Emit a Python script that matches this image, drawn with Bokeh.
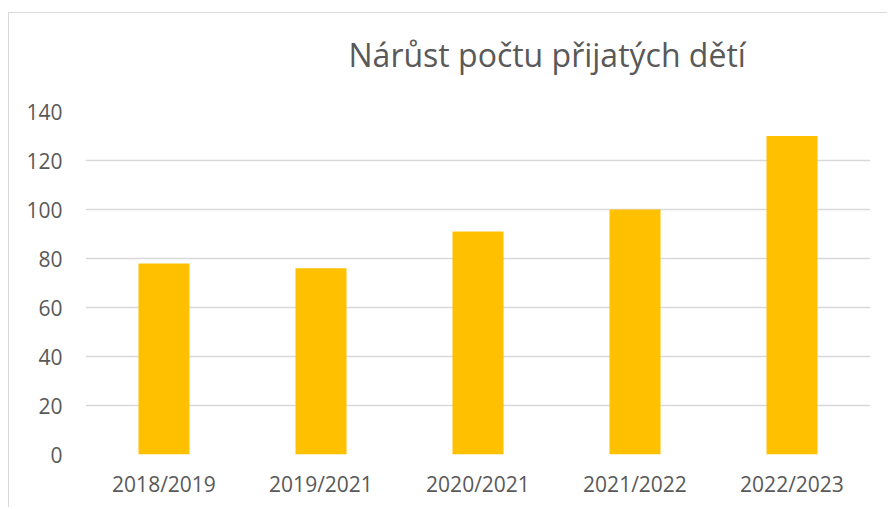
from bokeh.plotting import figure
from bokeh.models import Range1d, FixedTicker, Title, ColumnDataSource
from bokeh.embed import file_html
from bokeh.resources import INLINE

title_text = "Nárůst počtu přijatých dětí"
categories = ["2018/2019", "2019/2021", "2020/2021", "2021/2022", "2022/2023"]
values = [78, 76, 91, 100, 130]
y_ticks = [0, 20, 40, 60, 80, 100, 120, 140]

FONT = "Open Sans"
TXT = "#595959"
GRID = "#D9D9D9"

src = ColumnDataSource(dict(cat=categories, val=values))

p = figure(x_range=categories, y_range=Range1d(0, 140),
           width=879, height=495, output_backend="svg", toolbar_location=None,
           min_border_left=76, min_border_right=18, min_border_top=98, min_border_bottom=54)
p.styles = {"border-left": f"1px solid {GRID}", "border-top": f"1px solid {GRID}",
            "margin-top": "12px", "margin-left": "8px"}

p.vbar(x="cat", top="val", width=0.325, source=src, color="#FFC000", line_color=None)

p.outline_line_color = None
p.xgrid.grid_line_color = None
p.ygrid.grid_line_color = GRID
p.ygrid.grid_line_width = 1.5
p.yaxis.ticker = FixedTicker(ticks=y_ticks)

for ax in (p.xaxis[0], p.yaxis[0]):
    ax.axis_line_color = None
    ax.major_tick_line_color = None
    ax.minor_tick_line_color = None
    ax.major_tick_out = 0
    ax.major_tick_in = 0
    ax.major_label_text_font = FONT
    ax.major_label_text_font_size = "21px"
    ax.major_label_text_color = TXT
p.xaxis.major_label_standoff = 15
p.yaxis.major_label_standoff = 23

# spacer panel between frame and title
p.add_layout(Title(text=" ", text_font=FONT, text_font_size="20px", standoff=6,
                   text_color="white"), "above")
p.add_layout(Title(text=title_text, align="left", offset=263, standoff=2,
                   text_font=FONT, text_font_size="32px", text_color=TXT,
                   text_font_style="normal"), "above")

open("out.html", "w").write(file_html(p, INLINE))
